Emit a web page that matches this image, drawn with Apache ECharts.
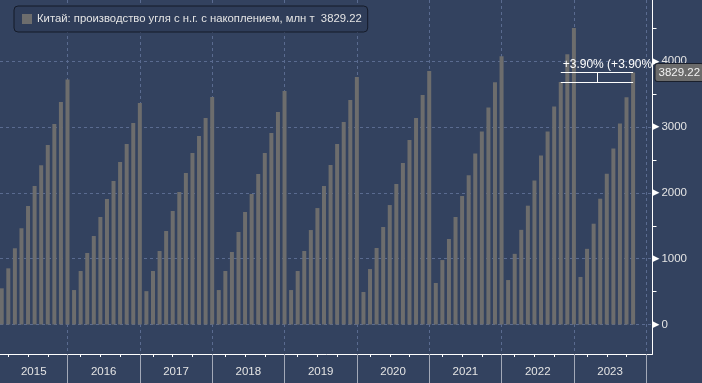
<!DOCTYPE html>
<html>
<head>
<meta charset="utf-8">
<script src="https://cdn.jsdelivr.net/npm/echarts@6/dist/echarts.min.js"></script>
<style>
html,body{margin:0;padding:0;background:#33425f;}
#c{width:702px;height:383px;}
</style>
</head>
<body>
<div id="c"></div>
<script>
// ---- data (cumulative since start of year, Mt; Jan–Feb reported together) ----
const seriesName = 'Китай: производство угля с н.г. с накоплением, млн т';
const years = [2015, 2016, 2017, 2018, 2019, 2020, 2021, 2022, 2023];
const months = ['фев', 'мар', 'апр', 'май', 'июн', 'июл', 'авг', 'сен', 'окт', 'ноя', 'дек'];
const v2015 = [550, 854, 1159, 1463, 1801, 2105, 2419, 2728, 3047, 3381, 3723];
const v2016 = [524, 813, 1087, 1345, 1634, 1908, 2182, 2470, 2744, 3063, 3367];
const v2017 = [507, 813, 1117, 1421, 1725, 2014, 2303, 2607, 2866, 3139, 3457];
const v2018 = [524, 813, 1102, 1406, 1710, 1984, 2288, 2607, 2911, 3230, 3549];
const v2019 = [524, 813, 1117, 1436, 1770, 2105, 2424, 2743, 3078, 3412, 3762];
const v2020 = [494, 843, 1163, 1482, 1816, 2135, 2454, 2804, 3138, 3488, 3853];
const v2021 = [631, 980, 1300, 1634, 1953, 2268, 2599, 2934, 3300, 3681, 4077];
const v2022 = [676, 1074, 1439, 1806, 2187, 2568, 2935, 3315, 3685.5, 4108, 4505];
const v2023 = [723, 1150, 1532, 1912, 2293, 2675, 3056, 3453, 3829.22];
const yLabelValues = [0, 1000, 2000, 3000, 4000];
const yMinorTicks = [500, 1500, 2500, 3500, 4500];
const quarterMonths = ['мар', 'июн', 'сен'];

// ---- build ----
const yearValues = [v2015, v2016, v2017, v2018, v2019, v2020, v2021, v2022, v2023];
const perYear = months.length;
const seriesData = [];
yearValues.forEach((arr, yi) => arr.forEach((v, mi) => seriesData.push([yi * perYear + mi, v])));

const X_MIN = -0.263, X_MAX = 98.95;
const Y_MIN = -448, Y_MAX = 4932;
const GRID_BOTTOM = 29, GRID_TOP = 0, H = 383;
const gridHeight = H - GRID_BOTTOM - GRID_TOP;

const quarterTicks = [];
years.forEach((y, yi) => quarterMonths.forEach(m => quarterTicks.push(yi * perYear + months.indexOf(m))));
const decSlots = years.map((y, yi) => yi * perYear + perYear - 1);
const yearCenters = years.map((y, yi) => {
  const start = Math.max(yi * perYear - 1, X_MIN);
  const end = yi * perYear + perYear - 1;
  return (start + end) / 2;
});

const last = seriesData[seriesData.length - 1];
const prev = seriesData[seriesData.length - 1 - perYear];
const pct = ((last[1] / prev[1]) - 1) * 100;
const pctStr = (pct >= 0 ? '+' : '') + pct.toFixed(2) + '%';
const annText = pctStr + ' (' + pctStr + ')';
const midSlot = (last[0] + prev[0]) / 2;

const FONT = 'Liberation Sans';
const TXT = '#e4e4e4';
const GRIDC = '#5a6b90';

const chart = echarts.init(document.getElementById('c'), null, {renderer: 'canvas'});
chart.setOption({
  animation: false,
  backgroundColor: '#33425f',
  textStyle: {fontFamily: FONT},
  legend: {
    left: 14, top: 6,
    padding: [7, 6, 7, 8],
    icon: 'rect', itemWidth: 10, itemHeight: 10,
    backgroundColor: '#2f3d59',
    borderColor: '#151b29', borderWidth: 1, borderRadius: 4,
    textStyle: {color: TXT, fontSize: 11.3, fontFamily: FONT, lineHeight: 12},
    formatter: name => name + '  ' + last[1].toFixed(2),
    data: [seriesName]
  },
  grid: {left: 0, right: 49.5, top: GRID_TOP, bottom: GRID_BOTTOM, containLabel: false, outerBoundsMode: 'none'},
  xAxis: [
    {
      type: 'value', min: X_MIN, max: X_MAX, position: 'bottom',
      axisLine: {show: true, onZero: false, lineStyle: {color: '#ffffff', width: 1}},
      axisTick: {show: true, customValues: decSlots, length: 30, lineStyle: {color: '#a3a9b8'}},
      axisLabel: {
        show: true, customValues: yearCenters, margin: 12,
        color: TXT, fontSize: 11.5, fontFamily: FONT,
        formatter: v => {
          const i = yearCenters.findIndex(c => Math.abs(c - v) < 1e-6);
          return i >= 0 ? String(years[i]) : '';
        }
      },
      splitLine: {show: true, lineStyle: {color: GRIDC, type: [3, 3], width: 1}}
    },
    {
      type: 'value', min: X_MIN, max: X_MAX, position: 'top', offset: -gridHeight,
      axisLine: {show: false},
      axisTick: {show: true, inside: true, customValues: quarterTicks, length: 3, lineStyle: {color: '#ffffff', width: 1}},
      axisLabel: {show: false},
      splitLine: {show: false}
    }
  ],
  yAxis: [
    {
      type: 'value', min: Y_MIN, max: Y_MAX, position: 'right',
      axisLine: {show: true, onZero: false, lineStyle: {color: '#ffffff', width: 1}},
      axisTick: {show: true, customValues: yMinorTicks, length: 4, lineStyle: {color: '#ffffff'}},
      axisLabel: {
        show: true, customValues: yLabelValues, margin: 0,
        formatter: v => '{a|▶}{b|' + v + '}',
        rich: {
          a: {color: '#ffffff', fontSize: 9, padding: [0, 2, 0, 0], fontFamily: 'DejaVu Sans'},
          b: {color: TXT, fontSize: 11.5, fontFamily: FONT}
        }
      },
      splitLine: {show: false}
    },
    {
      type: 'value', min: Y_MIN, max: Y_MAX, position: 'left',
      axisLine: {show: false},
      axisTick: {show: false, customValues: yLabelValues},
      axisLabel: {show: false},
      splitLine: {show: true, lineStyle: {color: GRIDC, type: [3, 3], width: 1}}
    }
  ],
  series: [{
    name: seriesName,
    type: 'bar',
    xAxisIndex: 0, yAxisIndex: 0,
    barWidth: 4,
    itemStyle: {color: '#6d6d6d'},
    data: seriesData,
    markLine: {
      silent: true,
      symbol: ['none', 'none'],
      lineStyle: {color: '#ffffff', width: 1, type: 'solid'},
      label: {show: false},
      data: [
        [
          {coord: [prev[0], last[1]], label: {
            show: true, position: 'insideStartTop', formatter: annText,
            color: '#ffffff', fontSize: 12, fontFamily: FONT, distance: [2, 2],
            width: 92, overflow: 'truncate', ellipsis: ''
          }},
          {coord: [last[0], last[1]]}
        ],
        [{coord: [prev[0], prev[1]]}, {coord: [last[0], prev[1]]}],
        [{coord: [midSlot, last[1]]}, {coord: [midSlot, prev[1]]}],
        {
          yAxis: last[1],
          lineStyle: {color: 'rgba(0,0,0,0)', width: 1},
          label: {
            show: true, position: 'end', formatter: last[1].toFixed(2), opacity: 1,
            color: '#f2f2f2', fontSize: 11.5, fontFamily: FONT,
            backgroundColor: '#6b6b6b', borderColor: '#1a1f2b', borderWidth: 1,
            borderRadius: 2, padding: [3, 3, 2, 3], distance: 3
          }
        }
      ]
    }
  }]
});
</script>
</body>
</html>
